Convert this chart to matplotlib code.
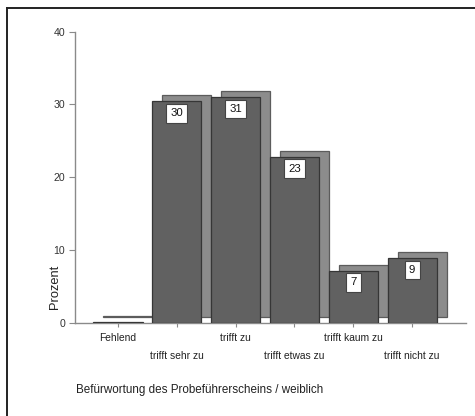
import matplotlib
matplotlib.use("Agg")
import matplotlib.pyplot as plt
import matplotlib.transforms as mtransforms
from matplotlib.lines import Line2D

plt.rcParams['font.family'] = ['Liberation Sans', 'DejaVu Sans']

categories = ["Fehlend", "trifft sehr zu", "trifft zu", "trifft etwas zu",
              "trifft kaum zu", "trifft nicht zu"]
percent = [0.1, 30.4, 31.0, 22.8, 7.2, 8.9]
yticks = [0, 10, 20, 30, 40]
ylabel = "Prozent"
title = "Befürwortung des Probeführerscheins / weiblich"

W, H = 475, 416
fig = plt.figure(figsize=(W / 100, H / 100), dpi=100)
ax = fig.add_axes([75 / W, 1 - 323 / H, (466 - 75) / W, (323 - 31.5) / H])

x = list(range(len(categories)))
bar_w = 0.835
front_col = "#616161"
front_edge = "#363636"
shadow_col = "#8c8c8c"
shadow_edge = "#5c5c5c"

# offset "shadow" copies of the bars, shifted right and up in screen pixels
shadow_tf = ax.transData + mtransforms.ScaledTranslation(10 / 100, 6 / 100, fig.dpi_scale_trans)
shadows = ax.bar(x, percent, width=bar_w, color=shadow_col, edgecolor=shadow_edge,
                 linewidth=0.9, zorder=2)
for p in shadows:
    p.set_transform(shadow_tf)
    p.set_clip_on(False)

fronts = ax.bar(x, percent, width=bar_w, color=front_col, edgecolor=front_edge,
                linewidth=0.9, zorder=3)

# value boxes near the top of each bar
for xi, v in zip(x, percent):
    if round(v) < 1:
        continue
    ax.annotate(f"{v:.0f}", xy=(xi, v), xytext=(0, -8.6), textcoords="offset points",
                ha="center", va="center", fontsize=8.2, color="#111111", zorder=5,
                bbox=dict(boxstyle="square,pad=0.38", fc="white", ec="#444444", lw=0.8))

ax.set_xlim(-0.73, 5.915)
ax.set_ylim(0, 40)
ax.set_yticks(yticks)
ax.set_xticks(x)
ax.set_xticklabels(categories)

for side in ("top", "right"):
    ax.spines[side].set_visible(False)
for side in ("left", "bottom"):
    ax.spines[side].set_color("#8a8a8a")
    ax.spines[side].set_linewidth(1.0)

ax.tick_params(axis="y", length=4, width=0.8, color="#8a8a8a", pad=3,
               labelsize=7.6, labelcolor="#333333")
ax.tick_params(axis="x", length=3, width=0.8, color="#8a8a8a",
               labelsize=7.4, labelcolor="#222222")
for i, t in enumerate(ax.xaxis.get_major_ticks()):
    t.set_pad(4 if i % 2 == 0 else 17)

fig.text(55 / W, 1 - 287 / H, ylabel, rotation=90, ha="center", va="center",
         fontsize=9.3, color="#222222")
fig.text(76 / W, 1 - 390 / H, title, ha="left", va="center",
         fontsize=8.4, color="#222222")

# partial frame around the chart (left and top edges)
fig.add_artist(Line2D([6.5 / W, 6.5 / W], [0, 1 - 7.5 / H], transform=fig.transFigure,
                      color="#222222", lw=1.4))
fig.add_artist(Line2D([6.5 / W, 1], [1 - 7.5 / H, 1 - 7.5 / H], transform=fig.transFigure,
                      color="#222222", lw=1.4))

fig.savefig("out.png", dpi=100)
